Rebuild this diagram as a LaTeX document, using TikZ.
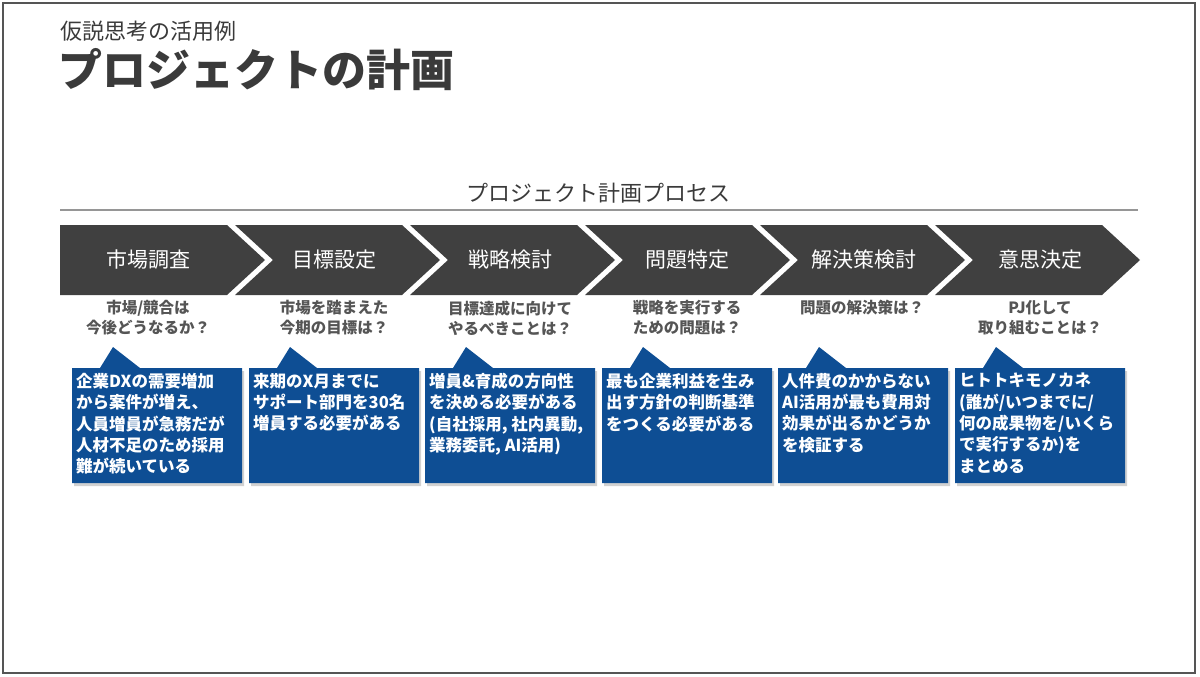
\documentclass[tikz,border=0pt]{standalone}
\usepackage{fontspec}
\setmainfont{Noto Sans CJK JP}
\definecolor{framegray}{RGB}{85,85,85}
\definecolor{titlegray}{RGB}{58,58,58}
\definecolor{chevgray}{RGB}{64,64,64}
\definecolor{askgray}{RGB}{85,85,85}
\definecolor{rulegray}{RGB}{150,150,150}
\definecolor{boxblue}{RGB}{14,78,148}
\tikzset{
  chevron/.style={fill=chevgray, draw=none},
  steplabel/.style={text=white, inner sep=0pt, font=\fontsize{21}{24}\selectfont},
  asklabel/.style={text=askgray, inner sep=0pt, align=center, font=\bfseries\fontsize{15.5}{20}\selectfont},
  notebox/.style={fill=boxblue, draw=none},
  noteshadow/.style={fill=black, opacity=0.18, draw=none},
  notetext/.style={text=white, inner sep=0pt, anchor=north west, align=left, font=\bfseries\fontsize{16.5}{21.3}\selectfont},
}
\begin{document}
\begin{tikzpicture}[x=1pt,y=-1pt]
  \useasboundingbox (0,0) rectangle (1200,677);
  \draw[framegray, line width=2.2pt] (3,3) rectangle (1195,673);

  % titles
  \node[anchor=base west, inner sep=0pt, text=titlegray, font=\fontsize{22}{26}\selectfont] (subtitle) at (60,40) {仮説思考の活用例};
  \node[anchor=base west, inner sep=0pt, text=titlegray, font=\bfseries\fontsize{44}{50}\selectfont] (title) at (58,87) {プロジェクトの計画};
  \node[inner sep=0pt, text=titlegray, font=\fontsize{22}{26}\selectfont] (process) at (598,193) {プロジェクト計画プロセス};
  \coordinate (ruleL) at (60,210);
  \coordinate (ruleR) at (1138,210);
  \draw[rulegray, line width=1.2pt] (ruleL) -- (ruleR);

  % chevrons
  \draw[chevron] (60,225) -- (227,225) -- (265,260) -- (227,295) -- (60,295) -- cycle;
  \draw[chevron] (235,225) -- (402,225) -- (440,260) -- (402,295) -- (235,295) -- (273,260) -- cycle;
  \draw[chevron] (410,225) -- (577,225) -- (615,260) -- (577,295) -- (410,295) -- (448,260) -- cycle;
  \draw[chevron] (585,225) -- (752,225) -- (790,260) -- (752,295) -- (585,295) -- (623,260) -- cycle;
  \draw[chevron] (760,225) -- (927,225) -- (965,260) -- (927,295) -- (760,295) -- (798,260) -- cycle;
  \draw[chevron] (935,225) -- (1102,225) -- (1140,260) -- (1102,295) -- (935,295) -- (973,260) -- cycle;

  \node[steplabel] (market) at (148,260) {市場調査};
  \node[steplabel] (goal) at (334,260) {目標設定};
  \node[steplabel] (strategy) at (510,260) {戦略検討};
  \node[steplabel] (problem) at (687,260) {問題特定};
  \node[steplabel] (solution) at (864,260) {解決策検討};
  \node[steplabel] (decision) at (1040,260) {意思決定};

  % questions
  \node[asklabel] (askmarket) at (148,318) {市場/競合は\\今後どうなるか？};
  \node[asklabel] (askgoal) at (334,318) {市場を踏まえた\\今期の目標は？};
  \node[asklabel] (askstrategy) at (510,318) {目標達成に向けて\\やるべきことは？};
  \node[asklabel] (askproblem) at (687,318) {戦略を実行する\\ための問題は？};
  \node[asklabel] (asksolution) at (862,308) {問題の解決策は？};
  \node[asklabel] (askdecision) at (1040,318) {PJ化して\\取り組むことは？};

  % callouts
  \draw[noteshadow] (74,371) -- (102,371) -- (115,350) -- (142,371) -- (244,371) -- (244,486) -- (74,486) -- cycle;
  \draw[noteshadow] (251,371) -- (279,371) -- (292,350) -- (319,371) -- (421,371) -- (421,486) -- (251,486) -- cycle;
  \draw[noteshadow] (427,371) -- (455,371) -- (468,350) -- (495,371) -- (597,371) -- (597,486) -- (427,486) -- cycle;
  \draw[noteshadow] (604,371) -- (632,371) -- (645,350) -- (672,371) -- (774,371) -- (774,486) -- (604,486) -- cycle;
  \draw[noteshadow] (780,371) -- (808,371) -- (821,350) -- (848,371) -- (950,371) -- (950,486) -- (780,486) -- cycle;
  \draw[noteshadow] (957,371) -- (985,371) -- (998,350) -- (1025,371) -- (1127,371) -- (1127,486) -- (957,486) -- cycle;

  \draw[notebox] (72,368) -- (100,368) -- (113,347) -- (140,368) -- (242,368) -- (242,483) -- (72,483) -- cycle;
  \draw[notebox] (249,368) -- (277,368) -- (290,347) -- (317,368) -- (419,368) -- (419,483) -- (249,483) -- cycle;
  \draw[notebox] (425,368) -- (453,368) -- (466,347) -- (493,368) -- (595,368) -- (595,483) -- (425,483) -- cycle;
  \draw[notebox] (602,368) -- (630,368) -- (643,347) -- (670,368) -- (772,368) -- (772,483) -- (602,483) -- cycle;
  \draw[notebox] (778,368) -- (806,368) -- (819,347) -- (846,368) -- (948,368) -- (948,483) -- (778,483) -- cycle;
  \draw[notebox] (955,368) -- (983,368) -- (996,347) -- (1023,368) -- (1125,368) -- (1125,483) -- (955,483) -- cycle;

  \node[notetext] (notemarket) at (76,373) {企業DXの需要増加\\から案件が増え、\\人員増員が急務だが\\人材不足のため採用\\難が続いている};
  \node[notetext] (notegoal) at (253,373) {来期のX月までに\\サポート部門を30名\\増員する必要がある};
  \node[notetext] (notestrategy) at (429,373) {増員\&育成の方向性\\を決める必要がある\\(自社採用, 社内異動,\\業務委託, AI活用)};
  \node[notetext] (noteproblem) at (606,373) {最も企業利益を生み\\出す方針の判断基準\\をつくる必要がある};
  \node[notetext] (notesolution) at (782,373) {人件費のかからない\\AI活用が最も費用対\\効果が出るかどうか\\を検証する};
  \node[notetext] (notedecision) at (959,373) {ヒトトキモノカネ\\(誰が/いつまでに/\\何の成果物を/いくら\\で実行するか)を\\まとめる};
\end{tikzpicture}
\end{document}
